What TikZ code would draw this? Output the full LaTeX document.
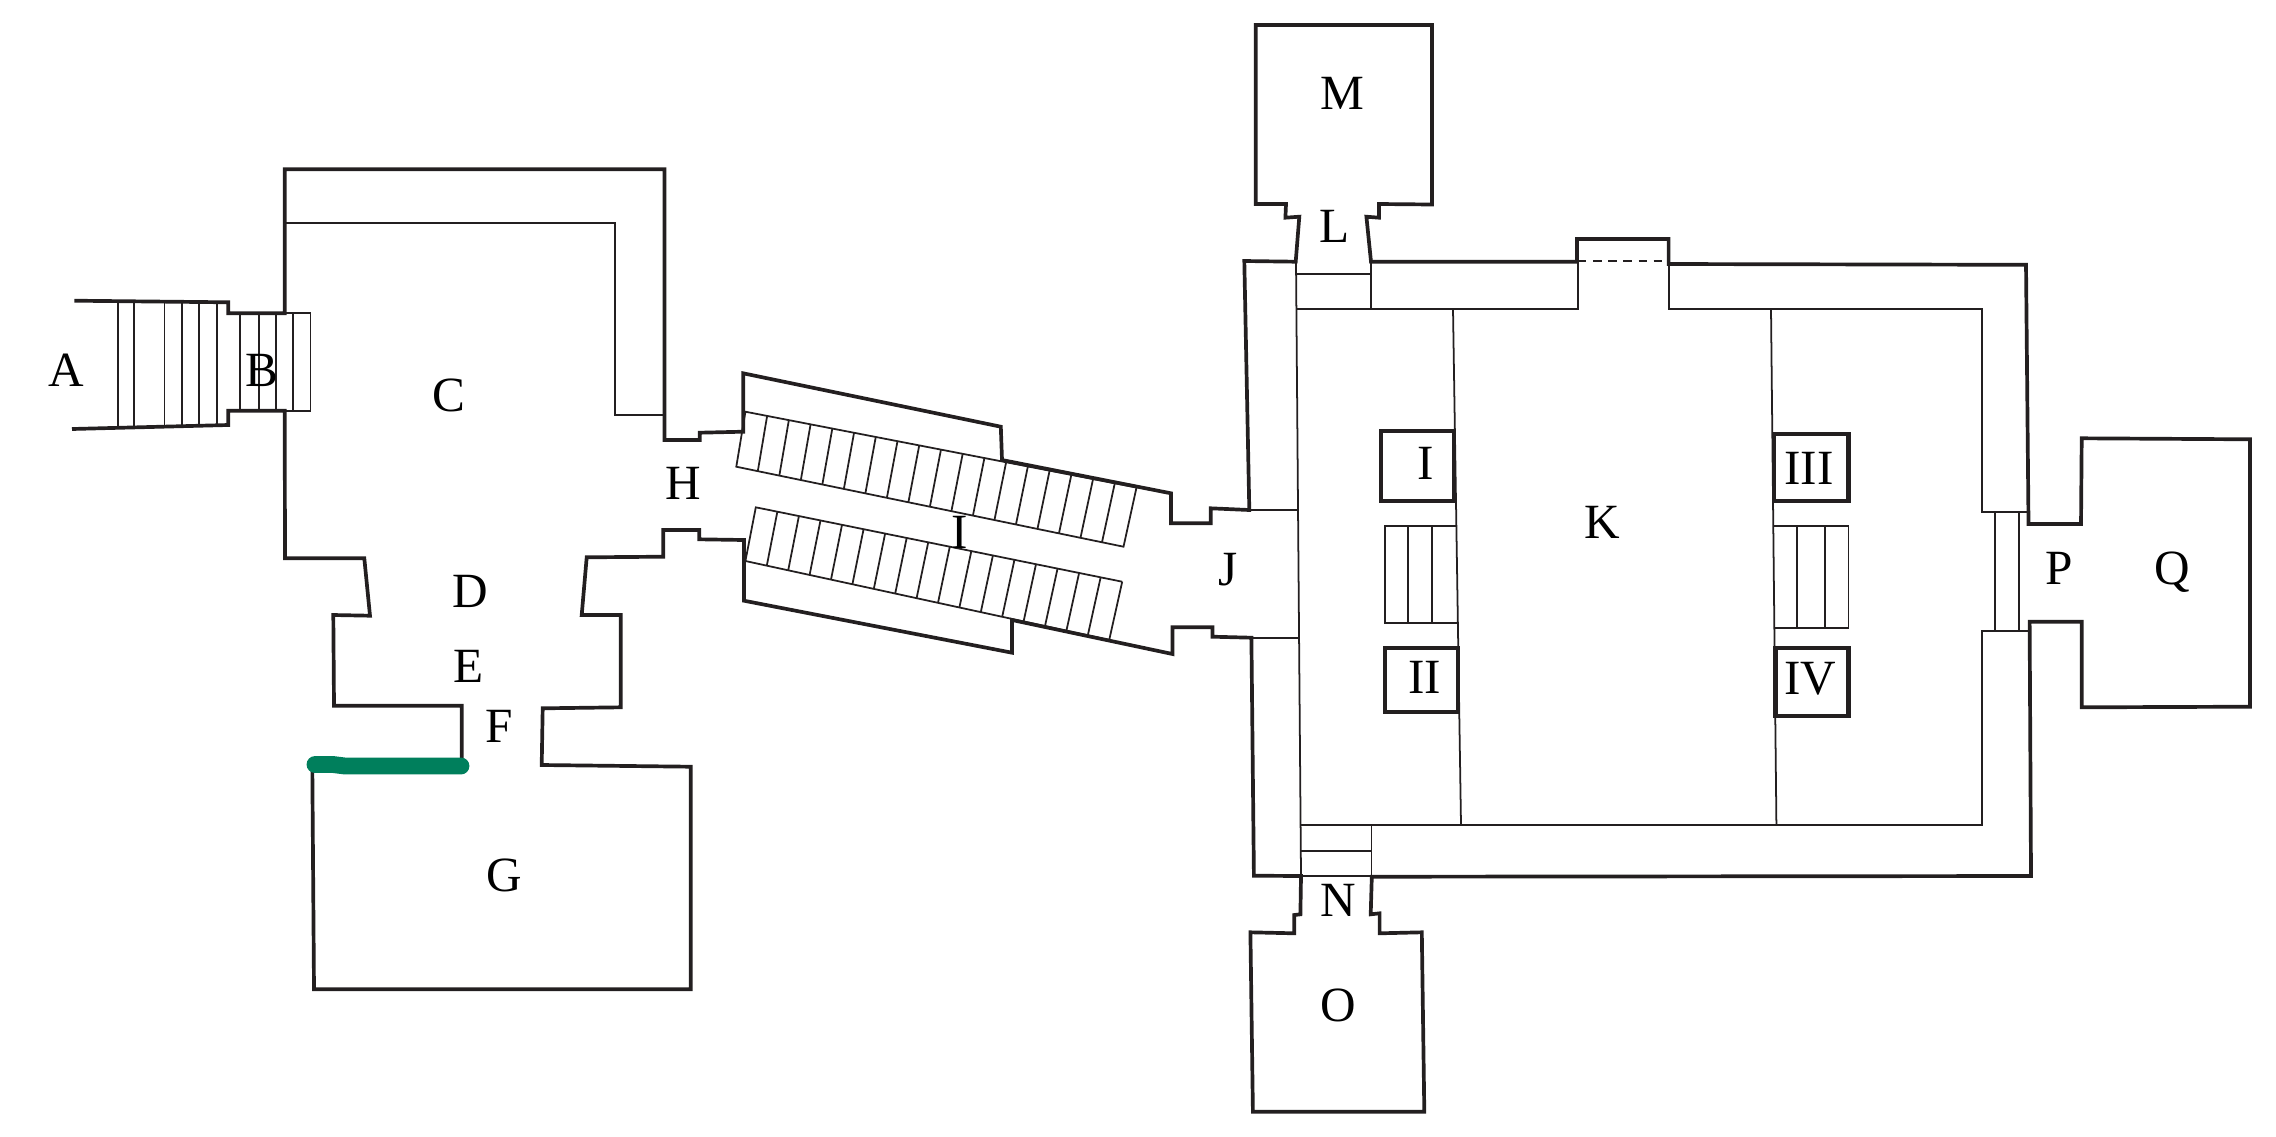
\documentclass[tikz,border=0pt]{standalone}
\usepackage{fontspec}
\setmainfont{Liberation Serif}
\usepackage{xcolor}
\usepackage{tikz}
\usetikzlibrary{calc}
\definecolor{plangreen}{HTML}{007F5C}
\definecolor{planink}{HTML}{231F20}
\tikzstyle{wall} = [draw=planink, line width=1.05pt, miter limit=4]
\tikzstyle{thin} = [draw=planink, line width=0.5pt]
\tikzstyle{pier} = [draw=planink, line width=1.2pt]
\tikzstyle{room} = [inner sep=0pt, text=black, text height=9.3pt, text depth=0pt, font=\fontsize{14}{16}\selectfont]

\begin{document}
\begin{tikzpicture}[x=0.01cm,y=-0.01cm]
    \useasboundingbox (0,0) rectangle (2276,1136);

    % ramp steps
    \coordinate (upA) at (745.4,411.7);
    \coordinate (upB) at (1136.5,487.5);
    \coordinate (upC) at (736.3,466.7);
    \coordinate (upD) at (1123.5,546.7);
    \coordinate (loA) at (755.8,507.3);
    \coordinate (loB) at (1122.2,581.7);
    \coordinate (loC) at (745.4,561);
    \coordinate (loD) at (1109.2,640);
    \draw[thin] (upB) -- (upA) -- (upC) -- (upD) -- (upB);
    \draw[thin] (loB) -- (loA) -- (loC) -- (loD) -- (loB);
    \foreach \t in {1,...,17}
        \draw[thin] ($(upA)!\t/18!(upB)$) -- ($(upC)!\t/18!(upD)$);
    \foreach \t in {1,...,16}
        \draw[thin] ($(loA)!\t/17!(loB)$) -- ($(loC)!\t/17!(loD)$);

    % entrance steps
    \foreach \sx/\sa/\sb in {118/301.4/427.3, 134/301.6/426.8, 164.4/301.8/426, 182.3/302/425.6, 199.3/302.1/425.3, 217.2/302.2/425}
        \draw[thin] (\sx,\sa) -- (\sx,\sb);
    \draw[thin] (284.7,313.3) -- (310.4,313.3) -- (310.4,410.7) -- (284.7,410.7);
    \foreach \sx in {239.7,259,276,293}
        \draw[thin] (\sx,313.3) -- (\sx,410.7);

    % inner lines, forecourt
    \draw[thin] (284.7,222.7) -- (615.2,222.7) -- (615.2,415) -- (664.4,415);

    % inner lines, hall
    \draw[thin] (1296,262) -- (1301,876);
    \draw[thin] (1249.3,510) -- (1298,510);
    \draw[thin] (1251.4,638) -- (1299,638);
    \draw[thin] (1296,274.3) -- (1371,274.3);
    \draw[thin] (1371,261.7) -- (1371,309.3);
    \draw[thin] (1296,309.3) -- (1578,309.3) -- (1578,261.7);
    \draw[thin,dash pattern=on 2.4pt off 1.9pt] (1578,261) -- (1668.6,261);
    \draw[thin] (1668.6,263.3) -- (1668.6,309.3) -- (1982,309.3) -- (1982,511.7) -- (2027,511.7);
    \draw[thin] (1995,511.7) -- (1995,631);
    \draw[thin] (2019,511.7) -- (2019,631);
    \draw[thin] (2029,631) -- (1982,631) -- (1982,825) -- (1301,825);
    \draw[thin] (1301,850.7) -- (1371.4,850.7);
    \draw[thin] (1301,875.7) -- (1371.8,875.7);
    \draw[thin] (1371.4,825) -- (1371.4,876);
    \draw[thin] (1453,309.3) -- (1461,825);
    \draw[thin] (1771,309.3) -- (1776.4,825);

    % stairs beside the piers
    \draw[thin] (1455.7,526) -- (1385,526) -- (1385,622.7) -- (1457.5,622.7);
    \draw[thin] (1408,526) -- (1408,622.7);
    \draw[thin] (1432,526) -- (1432,622.7);
    \draw[thin] (1774,526) -- (1848.4,526) -- (1848.4,628.3) -- (1774.6,628.3);
    \draw[thin] (1797,526) -- (1797,628.3);
    \draw[thin] (1825,526) -- (1825,628.3);

    % piers
    \draw[pier] (1380.7,430.7) rectangle (1454,500.7);
    \draw[pier] (1385,648.3) rectangle (1458,711.7);
    \draw[pier] (1773.6,434.3) rectangle (1848.4,501);
    \draw[pier] (1775.4,648.3) rectangle (1848.4,716);

    % outer wall
    \draw[wall] (74.4,300.7) -- (228.2,302.3) -- (228.2,313.3) -- (284.7,313.3) -- (284.7,169.3)
        -- (664.4,169.3) -- (664.4,440) -- (699.7,440) -- (699.7,432.7) -- (743.2,431.7)
        -- (743.2,373.3) -- (1000.8,426.7) -- (1002,460) -- (1171,493.3) -- (1171,523.3)
        -- (1210.7,523.3) -- (1210.7,508.3) -- (1249.3,510) -- (1244.3,261) -- (1295.7,261.7)
        -- (1299.3,216.7) -- (1285.4,217.7) -- (1286,204) -- (1255.7,204) -- (1255.7,25)
        -- (1432,25) -- (1432,204.5) -- (1379,204) -- (1379,217.7) -- (1366.4,216.7)
        -- (1371,261.7) -- (1577,261.7) -- (1577,239) -- (1668.6,239) -- (1668.6,264)
        -- (2026,264.8) -- (2028.5,524) -- (2081,524) -- (2081.7,438.3) -- (2250,439.3)
        -- (2250,706.7) -- (2081.7,707.3) -- (2081.7,621.7) -- (2029.6,621.7) -- (2031,876)
        -- (1371.8,876.7) -- (1370.7,914.3) -- (1379.6,913.3) -- (1379.6,933.3) -- (1421.8,932.3)
        -- (1424.3,1111.7) -- (1252.9,1111.7) -- (1250.4,932.3) -- (1294.3,933.3) -- (1294.3,915)
        -- (1300.4,914.3) -- (1301,876) -- (1253.9,875.7) -- (1251.4,637.7) -- (1212.4,636.7)
        -- (1212.4,627.3) -- (1172.5,627.3) -- (1172.5,654) -- (1012,620) -- (1012,652.7)
        -- (744,600.7) -- (744,540) -- (699.3,539.3) -- (699.3,530) -- (663.3,530)
        -- (663.3,556.7) -- (586.7,557.3) -- (581.7,615) -- (620.7,615) -- (620.7,707.3)
        -- (542.7,708.3) -- (541.7,765) -- (690.7,766.7) -- (690.7,989.3) -- (314,989.3)
        -- (312.3,765.7);
    \draw[wall] (461.7,765.7) -- (461.7,705.7) -- (334,705.7) -- (333.3,615) -- (370,615.7)
        -- (364.3,558.3) -- (285,558.3) -- (284.7,410.7) -- (228.2,410.7) -- (228.2,425) -- (72,429);

    % green mark
    \draw[plangreen, line width=4.8pt, line cap=round, line join=round]
        (315,764.5) -- (333,764.5) -- (345,766) -- (461,766);

    % room names
    \node[room] (roomA) at (66.6,370) {A};
    \node[room] (roomB) at (261.5,370) {B};
    \node[room] (roomC) at (448.5,395) {C};
    \node[room] (roomD) at (470,590.7) {D};
    \node[room] (roomE) at (468.3,665.7) {E};
    \node[room] (roomF) at (499,725.7) {F};
    \node[room] (roomG) at (504.5,875) {G};
    \node[room] (roomH) at (682.8,483) {H};
    \node[room] (roomI) at (959.6,531.7) {I};
    \node[room] (roomJ) at (1228,569) {J};
    \node[room] (roomK) at (1602,521.7) {K};
    \node[room] (roomL) at (1335,226) {L};
    \node[room] (roomM) at (1342,92.7) {M};
    \node[room] (roomN) at (1337.9,900) {N};
    \node[room] (roomO) at (1337.9,1005) {O};
    \node[room] (roomP) at (2059,568.3) {P};
    \node[room] (roomQ) at (2172,568.3) {Q};
    \node[room] (pierI) at (1425.4,463.3) {I};
    \node[room] (pierII) at (1424.6,677.3) {II};
    \node[room] (pierIII) at (1809,468.3) {III};
    \node[room] (pierIV) at (1810,677.7) {IV};
\end{tikzpicture}
\end{document}
